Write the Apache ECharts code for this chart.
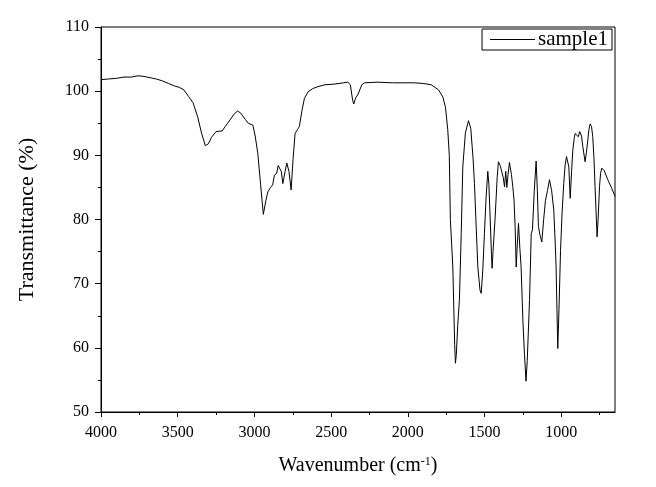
<!DOCTYPE html>
<html>
<head>
<meta charset="utf-8">
<script src="https://cdn.jsdelivr.net/npm/echarts@6/dist/echarts.min.js"></script>
<style>html,body{margin:0;padding:0;background:#fff}#c{width:656px;height:487px}</style>
</head>
<body>
<div id="c"></div>
<script>
const wavenumbers = [4000,3950,3900,3850,3800,3760,3720,3680,3640,3600,3560,3520,3490,3460,3430,3400,3370,3345,3320,3300,3280,3250,3210,3190,3160,3130,3110,3090,3060,3040,3010,2995,2978,2960,2942,2925,2913,2895,2881,2870,2855,2845,2837,2825,2815,2800,2789,2775,2761,2748,2735,2720,2707,2690,2674,2650,2620,2587,2540,2479,2420,2392,2375,2360,2353,2340,2327,2300,2283,2200,2100,2000,1957,1900,1848,1800,1772,1755,1740,1730,1723,1707,1695,1690,1684,1675,1664,1652,1642,1625,1605,1590,1575,1566,1555,1544,1530,1522,1512,1501,1490,1479,1472,1464,1455,1451,1445,1431,1418,1410,1398,1386,1378,1370,1362,1355,1347,1338,1325,1316,1308,1301,1294,1287,1279,1270,1262,1250,1240,1230,1222,1207,1196,1188,1176,1164,1156,1149,1138,1127,1115,1103,1090,1077,1063,1049,1040,1034,1023,1015,1005,995,984,975,966,958,951,942,933,925,915,910,900,889,880,875,868,860,845,836,827,820,812,803,795,787,780,773,767,760,751,744,736,720,697,670,650];
const transmittance = [101.8,101.9,102.0,102.2,102.2,102.4,102.3,102.1,101.9,101.6,101.2,100.8,100.6,100.2,99.2,98.2,96.0,93.5,91.5,91.8,92.8,93.7,93.8,94.5,95.5,96.5,96.9,96.6,95.6,95.0,94.7,93.0,90.3,85.5,80.8,83.0,84.3,85.0,85.4,86.9,87.2,88.4,88.6,87.5,85.6,87.5,88.8,87.5,84.6,89.5,93.4,94.0,94.5,97.0,98.9,99.9,100.4,100.7,101.0,101.1,101.3,101.4,101.0,98.6,98.0,99.0,99.4,101.0,101.3,101.4,101.3,101.3,101.3,101.2,101.0,100.2,99.1,97.5,94.0,90.0,80.0,72.6,60.5,57.6,59.0,63.5,67.5,78.0,88.2,93.5,95.4,94.2,89.5,85.6,79.0,72.6,69.0,68.5,72.0,77.8,83.5,87.5,85.5,80.4,74.5,72.4,75.0,80.4,86.5,89.0,88.4,88.5,86.5,85.1,87.5,85.0,87.0,88.9,87.0,85.1,83.0,78.9,72.6,76.0,79.4,75.5,72.6,64.0,59.0,54.8,58.0,67.5,77.8,78.4,84.5,89.1,84.5,78.9,77.5,76.5,80.0,83.0,84.5,86.2,84.5,81.5,76.5,72.6,59.9,66.0,75.2,81.0,85.6,88.5,89.8,89.5,88.2,83.3,87.5,90.8,92.8,93.4,93.6,92.9,93.7,94.0,93.0,91.4,89.0,90.5,92.4,94.0,94.9,94.5,92.9,89.5,85.1,81.0,77.3,80.0,85.1,87.2,88.0,87.6,86.2,84.8,83.6];
const xMajorTicks = [1000,1500,2000,2500,3000,3500,4000];
const xMinorTicks = [750,1250,1750,2250,2750,3250,3750];
const seriesName = 'sample1';

const FONT = '"Liberation Serif","Times New Roman",serif';
const data = wavenumbers.map((w, i) => [w, transmittance[i]]);
const chart = echarts.init(document.getElementById('c'), null, {renderer: 'canvas'});
chart.setOption({
  animation: false,
  backgroundColor: '#fff',
  grid: {left: 101, right: 41, top: 27, bottom: 75, show: true, borderColor: '#000', borderWidth: 1, backgroundColor: 'transparent'},
  legend: {
    right: 44, top: 29, orient: 'horizontal',
    borderColor: '#000', borderWidth: 1, padding: [0, 4, 0, 8],
    icon: 'rect', itemWidth: 45, itemHeight: 1, itemGap: 4,
    textStyle: {fontFamily: FONT, fontSize: 21, color: '#000', padding: [0, 0, 0, -2]},
    data: [{name: seriesName, itemStyle: {color: '#000'}}]
  },
  xAxis: [{
    type: 'value', inverse: true, min: 650, max: 4000, position: 'bottom',
    axisLine: {show: true, onZero: false, lineStyle: {color: '#000', width: 1}},
    axisTick: {show: true, length: 5, customValues: xMajorTicks, lineStyle: {color: '#000'}},
    axisLabel: {customValues: xMajorTicks, formatter: v => String(v), fontFamily: FONT, fontSize: 16, color: '#000', margin: 13},
    splitLine: {show: false},
    name: '{a|Wavenumber (cm}{s|-1}{a|)}', nameLocation: 'middle', nameGap: 44,
    nameTextStyle: {rich: {a: {fontFamily: FONT, fontSize: 20, color: '#000'}, s: {fontFamily: FONT, fontSize: 12, color: '#000', verticalAlign: 'top', padding: [0, 0, 8, 0]}}}
  }, {
    type: 'value', inverse: true, min: 650, max: 4000, position: 'bottom',
    axisLine: {show: false},
    axisTick: {show: true, length: 3, customValues: xMinorTicks, lineStyle: {color: '#000'}},
    axisLabel: {show: false},
    splitLine: {show: false}
  }],
  yAxis: {
    type: 'value', min: 50, max: 110, interval: 10,
    axisLine: {show: true, lineStyle: {color: '#000', width: 1}},
    axisTick: {show: true, length: 6, lineStyle: {color: '#000'}},
    minorTick: {show: true, splitNumber: 2, length: 3, lineStyle: {color: '#000'}},
    axisLabel: {fontFamily: FONT, fontSize: 16, color: '#000', margin: 12},
    splitLine: {show: false},
    name: 'Transmittance (%)', nameLocation: 'middle', nameGap: 63, nameRotate: 90,
    nameTextStyle: {fontFamily: FONT, fontSize: 22, color: '#000'}
  },
  series: [{
    name: seriesName, type: 'line', xAxisIndex: 0, data: data,
    showSymbol: false, symbol: 'none', smooth: false,
    lineStyle: {color: '#000', width: 1}, itemStyle: {color: '#000'}
  }]
});
</script>
</body>
</html>
